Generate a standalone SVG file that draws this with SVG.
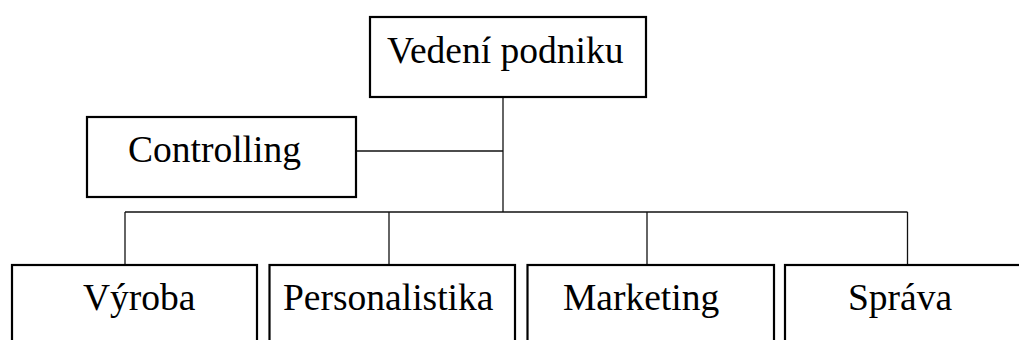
<svg xmlns="http://www.w3.org/2000/svg" width="1019" height="340" viewBox="0 0 1019 340">
<style>
.box{fill:#fff;stroke:#000;stroke-width:2.2}
.lbl{font-family:"Liberation Serif","Times New Roman",serif;font-size:37.5px;fill:#000}
.con line{stroke:#111;stroke-width:1.3}
</style>
<rect width="1019" height="340" fill="#fff"/>
<g class="con" id="connectors">
<line x1="503" y1="97" x2="503" y2="212"/>
<line x1="356" y1="151" x2="503" y2="151"/>
<line x1="125" y1="212" x2="907.5" y2="212"/>
<line x1="125" y1="212" x2="125" y2="265"/>
<line x1="389" y1="212" x2="389" y2="265"/>
<line x1="647" y1="212" x2="647" y2="265"/>
<line x1="907.5" y1="212" x2="907.5" y2="265"/>
</g>
<g id="vedeni"><rect class="box" x="370" y="17" width="276" height="80"/><text class="lbl" x="387" y="63">Vedení podniku</text></g>
<g id="controlling"><rect class="box" x="87" y="117" width="269" height="80"/><text class="lbl" x="128" y="162">Controlling</text></g>
<g id="vyroba"><rect class="box" x="12" y="265" width="245" height="100"/><text class="lbl" x="83" y="310">Výroba</text></g>
<g id="personalistika"><rect class="box" x="269.5" y="265" width="245.5" height="100"/><text class="lbl" x="283" y="310">Personalistika</text></g>
<g id="marketing"><rect class="box" x="527.5" y="265" width="246.5" height="100"/><text class="lbl" x="563" y="310">Marketing</text></g>
<g id="sprava"><rect class="box" x="785" y="265" width="250" height="100"/><text class="lbl" x="848" y="310">Správa</text></g>
</svg>
